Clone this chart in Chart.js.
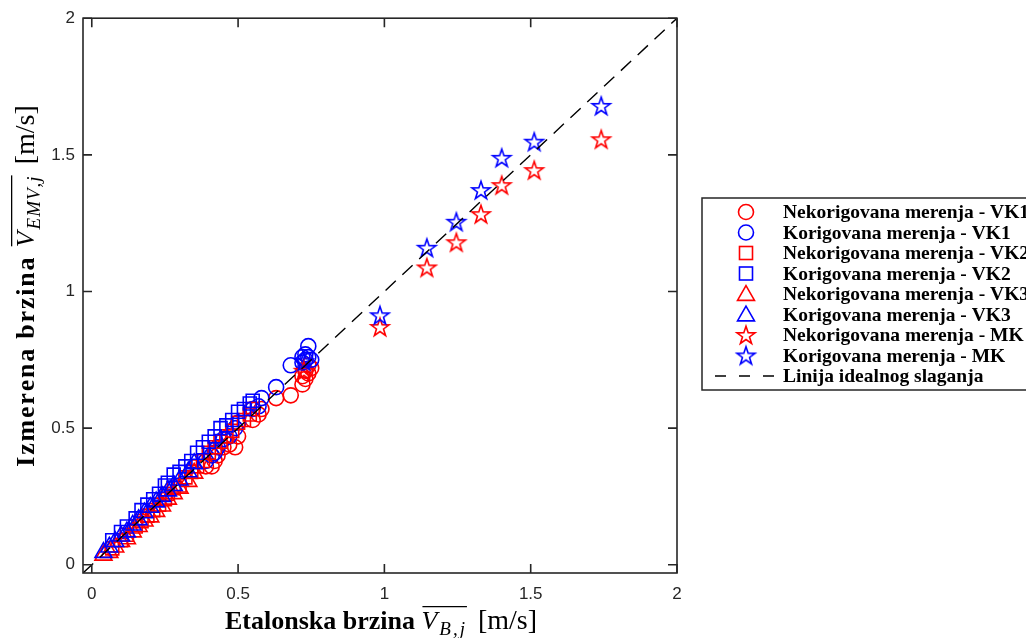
<!DOCTYPE html>
<html><head><meta charset="utf-8">
<script src="https://cdn.jsdelivr.net/npm/chart.js@4/dist/chart.umd.min.js"></script>
<style>html,body{margin:0;padding:0;background:#fff;overflow:hidden}#wrap{width:1026px;height:638px;position:relative}</style>
</head><body><div id="wrap"><canvas id="c" width="1026" height="638"></canvas></div>
<script>
// ---- axes ----
const xTicks = [0, 0.5, 1, 1.5, 2];
const yTicks = [0, 0.5, 1, 1.5, 2];
const axisMin = -0.03, axisMax = 2;

// ---- VK1 (circles) ----
const vk1X     = [0.39,0.41,0.42,0.43,0.45,0.47,0.49,0.50,0.55,0.57,0.58,0.63,0.68,0.72,0.72,0.73,0.73,0.74,0.74,0.75];
const vk1Nekor = [0.36,0.36,0.38,0.40,0.43,0.44,0.43,0.47,0.53,0.55,0.57,0.61,0.62,0.66,0.69,0.68,0.71,0.70,0.73,0.72];
const vk1Kor   = [0.38,0.40,0.41,0.43,0.46,0.47,0.50,0.52,0.57,0.58,0.61,0.65,0.73,0.74,0.76,0.75,0.77,0.76,0.80,0.75];

// ---- VK2 (squares) ----
const vk2X     = [0.07,0.10,0.12,0.15,0.17,0.19,0.21,0.23,0.25,0.26,0.28,0.30,0.32,0.34,0.36,0.38,0.40,0.42,0.44,0.46,0.48,0.50,0.52,0.54,0.55];
const vk2Nekor = [0.06,0.09,0.11,0.14,0.16,0.18,0.20,0.22,0.24,0.26,0.28,0.29,0.32,0.34,0.36,0.38,0.41,0.43,0.45,0.47,0.49,0.52,0.53,0.55,0.57];
const vk2Kor   = [0.09,0.12,0.14,0.17,0.20,0.22,0.24,0.26,0.29,0.30,0.33,0.34,0.36,0.38,0.41,0.43,0.45,0.47,0.50,0.51,0.53,0.56,0.57,0.59,0.60];

// ---- VK3 (triangles) ----
const vk3X     = [0.04,0.06,0.08,0.10,0.12,0.14,0.16,0.18,0.20,0.22,0.24,0.26,0.28,0.30,0.33,0.35];
const vk3Nekor = [0.035,0.045,0.065,0.085,0.095,0.12,0.14,0.16,0.175,0.195,0.215,0.24,0.26,0.28,0.305,0.335];
const vk3Kor   = [0.045,0.065,0.085,0.105,0.12,0.145,0.165,0.19,0.21,0.23,0.25,0.27,0.29,0.31,0.34,0.37];

// ---- MK (stars) ----
const mkX     = [0.725,0.985,1.145,1.246,1.330,1.401,1.512,1.741];
const mkNekor = [0.71,0.870,1.088,1.180,1.283,1.389,1.444,1.557];
const mkKor   = [0.745,0.913,1.160,1.255,1.371,1.489,1.548,1.679];

// ---- ideal line ----
const idealX = [-0.03, 2];
const idealY = [-0.03, 2];

// ---- texts ----
const legendLabels = [
  'Nekorigovana merenja - VK1','Korigovana merenja - VK1',
  'Nekorigovana merenja - VK2','Korigovana merenja - VK2',
  'Nekorigovana merenja - VK3','Korigovana merenja - VK3',
  'Nekorigovana merenja - MK','Korigovana merenja - MK',
  'Linija idealnog slaganja'];
const xTitle = ['Etalonska brzina ', 'V', 'B,j', '[m/s]'];
const yTitle = ['Izmerena brzina ', 'V', 'EMV,j', '[m/s]'];

const RED = '#ff0000', BLUE = '#0000ff', INK = '#262626';
const SERIF = '"Liberation Serif", "Times New Roman", serif';

function makeStar(color){
  const c = document.createElement('canvas'); c.width = 24; c.height = 24;
  const g = c.getContext('2d'); g.strokeStyle = color; g.lineWidth = 1.6; g.lineJoin = 'miter';
  g.beginPath();
  for (let i = 0; i < 10; i++) {
    const r = i % 2 ? 3.7 : 9.5; const a = -Math.PI/2 + i*Math.PI/5;
    const px = 12 + r*Math.cos(a), py = 12.8 + r*Math.sin(a);
    i ? g.lineTo(px, py) : g.moveTo(px, py);
  }
  g.closePath(); g.stroke(); return c;
}
const starRed = makeStar(RED), starBlue = makeStar(BLUE);

function pts(xs, ys){ return xs.map((x, i) => ({x, y: ys[i]})); }

const styles = [
  {st:'circle', r:7.5}, {st:'rect', r:9.2}, {st:'triangle', r:9.8}
];
function markerSet(label, xs, ys, color, style, order){
  return {label, data: pts(xs, ys), showLine:false, pointStyle: style.st, pointRadius: style.r,
    borderColor: color, backgroundColor: 'rgba(0,0,0,0)', pointBorderWidth: 1.6, borderWidth: 1.6, order};
}
const datasets = [
  markerSet(legendLabels[0], vk1X, vk1Nekor, RED, styles[0], 8),
  markerSet(legendLabels[1], vk1X, vk1Kor, BLUE, styles[0], 7),
  markerSet(legendLabels[2], vk2X, vk2Nekor, RED, styles[1], 6),
  markerSet(legendLabels[3], vk2X, vk2Kor, BLUE, styles[1], 5),
  markerSet(legendLabels[4], vk3X, vk3Nekor, RED, styles[2], 4),
  markerSet(legendLabels[5], vk3X, vk3Kor, BLUE, styles[2], 3),
  {label: legendLabels[6], data: pts(mkX, mkNekor), showLine:false, pointStyle: starRed, pointRadius: 9, order: 2},
  {label: legendLabels[7], data: pts(mkX, mkKor), showLine:false, pointStyle: starBlue, pointRadius: 9, order: 1},
  {label: legendLabels[8], data: pts(idealX, idealY), showLine:true, pointRadius:0, borderColor:'#000', borderWidth:1.4, borderDash:[14,9], order:0}
];

function drawSymbol(g, kind, x, y, color){
  g.save(); g.strokeStyle = color; g.lineWidth = 1.6;
  if (kind === 'circle') { g.beginPath(); g.arc(x, y, 7.5, 0, Math.PI*2); g.stroke(); }
  else if (kind === 'rect') { g.strokeRect(x-6.5, y-6.5, 13, 13); }
  else if (kind === 'triangle') {
    const r = 9.8; g.beginPath();
    for (let i = 0; i < 3; i++) { const a = -Math.PI/2 + i*2*Math.PI/3; const px = x + r*Math.cos(a), py = y + 1.5 + r*Math.sin(a); i ? g.lineTo(px,py) : g.moveTo(px,py); }
    g.closePath(); g.stroke();
  } else if (kind === 'star') { g.drawImage(color === RED ? starRed : starBlue, x-12, y-12); }
  else if (kind === 'line') { g.strokeStyle = '#000'; g.lineWidth = 1.5; g.setLineDash([11,13]); g.beginPath(); g.moveTo(x-31, y); g.lineTo(x+31, y); g.stroke(); }
  g.restore();
}

function drawMathLabel(g, parts, size, boldSp, subSp){
  const fB = `bold ${size}px ${SERIF}`, fI = `italic ${size}px ${SERIF}`,
        fS = `italic ${Math.round(size*0.74)}px ${SERIF}`, fR = `${size+2}px ${SERIF}`;
  const gap = 11;
  const spaced = (txt, font, sp) => { g.font = font; let w = 0; for (const ch of txt) w += g.measureText(ch).width + sp; return w; };
  const w0 = spaced(parts[0], fB, boldSp);
  g.font = fI; const w1 = g.measureText(parts[1]).width;
  const w2 = spaced(parts[2], fS, subSp);
  g.font = fR; const w3 = g.measureText(parts[3]).width;
  const tot = w0 + w1 + 2 + w2 + gap + w3; let x = -tot/2;
  g.textBaseline = 'alphabetic'; g.textAlign = 'left'; g.fillStyle = '#000';
  g.font = fB;
  for (const ch of parts[0]) { g.fillText(ch, x, 0); x += g.measureText(ch).width + boldSp; }
  const ox = x + 1;
  g.font = fI; g.fillText(parts[1], x, 0); x += w1 + 2;
  g.font = fS;
  for (const ch of parts[2]) { g.fillText(ch, x, size*0.22); x += g.measureText(ch).width + subSp; }
  const oe = x;
  x += gap;
  g.font = fR; g.fillText(parts[3], x, 0);
  g.strokeStyle = '#000'; g.lineWidth = 1.3; g.beginPath();
  g.moveTo(ox, -size*0.86); g.lineTo(oe, -size*0.86); g.stroke();
}

const framePlugin = {
  id: 'frame',
  afterDatasetsDraw(chart){
    const g = chart.ctx, a = chart.chartArea, sx = chart.scales.x, sy = chart.scales.y;
    g.save(); g.strokeStyle = INK; g.lineWidth = 1.6;
    g.strokeRect(a.left, a.top, a.right - a.left, a.bottom - a.top);
    g.beginPath();
    xTicks.forEach(v => { const px = sx.getPixelForValue(v); g.moveTo(px, a.bottom); g.lineTo(px, a.bottom - 9); g.moveTo(px, a.top); g.lineTo(px, a.top + 9); });
    yTicks.forEach(v => { const py = sy.getPixelForValue(v); g.moveTo(a.left, py); g.lineTo(a.left + 9, py); g.moveTo(a.right, py); g.lineTo(a.right - 9, py); });
    g.stroke(); g.restore();
  },
  afterDraw(chart){
    const g = chart.ctx;
    // axis titles
    g.save(); g.translate(381, 629); drawMathLabel(g, xTitle, 26, 0, 2); g.restore();
    g.save(); g.translate(34, 286); g.rotate(-Math.PI/2); drawMathLabel(g, yTitle, 26, 1.8, 1); g.restore();
    // legend
    g.save();
    g.fillStyle = '#fff'; g.fillRect(702, 198, 340, 192);
    g.strokeStyle = INK; g.lineWidth = 1.5; g.strokeRect(702, 198, 340, 192);
    const kinds = ['circle','circle','rect','rect','triangle','triangle','star','star','line'];
    const cols = [RED,BLUE,RED,BLUE,RED,BLUE,RED,BLUE,'#000'];
    g.font = `bold 19.5px ${SERIF}`; g.fillStyle = '#000'; g.textBaseline = 'middle'; g.textAlign = 'left';
    legendLabels.forEach((t, i) => {
      const y = 212 + i*20.5;
      drawSymbol(g, kinds[i], 746, y, cols[i]);
      g.fillStyle = '#000'; g.fillText(t, 783, y + 1);
    });
    g.restore();
  }
};

const tickFont = {family: '"Liberation Sans", Arial, sans-serif', size: 17};
new Chart(document.getElementById('c').getContext('2d'), {
  type: 'scatter',
  data: {datasets},
  options: {
    responsive: false, animation: false, devicePixelRatio: 1,
    layout: {padding: {left: 0, top: 18, right: 349, bottom: 0}},
    plugins: {legend: {display: false}, tooltip: {enabled: false}},
    scales: {
      x: {type: 'linear', min: axisMin, max: axisMax,
        afterBuildTicks: s => { s.ticks = xTicks.map(v => ({value: v})); },
        afterFit: s => { s.height = 65; },
        grid: {display: false, drawTicks: false}, border: {display: false},
        ticks: {font: tickFont, color: INK, padding: 11, maxRotation: 0, autoSkip: false, callback: v => String(v)}},
      y: {type: 'linear', min: axisMin, max: axisMax,
        afterBuildTicks: s => { s.ticks = yTicks.map(v => ({value: v})); },
        afterFit: s => { s.width = 83; },
        grid: {display: false, drawTicks: false}, border: {display: false},
        ticks: {font: tickFont, color: INK, padding: 8, autoSkip: false, callback: v => String(v)}}
    }
  },
  plugins: [framePlugin]
});
</script></body></html>
